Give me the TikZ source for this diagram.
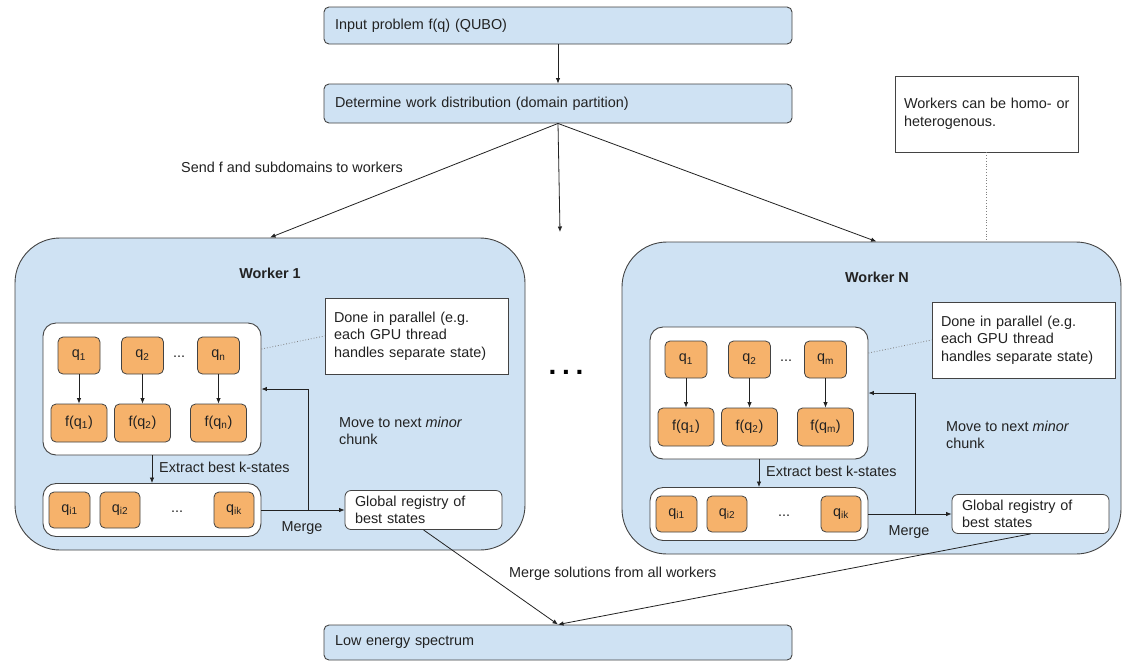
\documentclass[tikz,border=0pt]{standalone}
\usepackage{fontspec}
\setmainfont{Liberation Sans}
\usetikzlibrary{arrows.meta,calc}

\definecolor{paleblue}{HTML}{CFE2F3}
\definecolor{qorange}{HTML}{F6B26B}
\definecolor{edge}{HTML}{434343}
\definecolor{ink}{HTML}{222222}

\tikzset{
  txtbase/.style={font=\fontsize{14.4}{17.5}\selectfont, text=ink},
  txt/.style={txtbase, inner sep=0pt},
  heading/.style={font=\fontsize{14.4}{17.5}\selectfont\bfseries, text=ink, inner sep=0pt},
  stage/.style={txtbase, draw=edge, line width=0.9pt, fill=paleblue, rounded corners=5pt,
    align=left, inner xsep=11pt, inner ysep=0pt, text width=446pt},
  worker/.style={draw=edge, line width=0.9pt, fill=paleblue, rounded corners=45pt, inner sep=0pt},
  pool/.style={draw=edge, line width=0.9pt, fill=white, rounded corners=13pt, inner sep=0pt},
  cell/.style={txtbase, draw=edge, line width=0.8pt, fill=qorange, rounded corners=5pt, inner sep=0pt},
  memo/.style={txtbase, draw=edge, line width=0.8pt, fill=white, align=left,
    inner xsep=9pt, inner ysep=0pt, minimum height=76pt, text width=165pt},
  registry/.style={txtbase, draw=edge, line width=0.8pt, fill=white, rounded corners=6pt,
    align=left, inner xsep=10pt, inner ysep=0pt, minimum height=39pt, text width=137pt},
  flow/.style={draw=ink, line width=0.8pt, -{Latex[length=5.5pt,width=4.5pt]}},
  hint/.style={draw=gray, line width=0.8pt, dotted},
}

% One worker panel: #1 name prefix, #2/#3 shift, #4 title, #5 last index, #6 panel width
\newcommand\workerpanel[6]{%
  \begin{scope}[shift={(#2,#3)}]
    \node[worker, minimum width=#6pt, minimum height=312pt] (#1-box) at ({15+#6/2},394) {};
    \node[heading] (#1-title) at (270,273) {#4};
    \node[memo] (#1-memo) at (416.5,336) {Done in parallel (e.g.\\each GPU thread\\handles separate state)};
    % candidate states and their energies
    \node[pool, minimum width=218pt, minimum height=132pt] (#1-pool) at (152,389) {};
    \node[cell, minimum width=42pt, minimum height=37pt] (#1-q1) at (79,355.5) {q\textsubscript{1}};
    \node[cell, minimum width=42pt, minimum height=37pt] (#1-q2) at (142.5,355.5) {q\textsubscript{2}};
    \node[cell, minimum width=42pt, minimum height=37pt] (#1-q3) at (218.5,355.5) {q\textsubscript{#5}};
    \node[txt] (#1-qdots) at (179,357) {...};
    \node[cell, minimum width=56pt, minimum height=38pt] (#1-f1) at (79,423) {f(q\textsubscript{1})};
    \node[cell, minimum width=56pt, minimum height=38pt] (#1-f2) at (142.5,423) {f(q\textsubscript{2})};
    \node[cell, minimum width=56pt, minimum height=38pt] (#1-f3) at (218.5,423) {f(q\textsubscript{#5})};
    \draw[flow] (#1-q1.south) -- (#1-f1.north);
    \draw[flow] (#1-q2.south) -- (#1-f2.north);
    \draw[flow] (#1-q3.south) -- (#1-f3.north);
    % best k states
    \node[pool, minimum width=218pt, minimum height=53pt] (#1-best) at (152,510) {};
    \node[cell, minimum width=41pt, minimum height=36pt] (#1-k1) at (69.5,510) {q\textsubscript{i1}};
    \node[cell, minimum width=40pt, minimum height=36pt] (#1-k2) at (120,510) {q\textsubscript{i2}};
    \node[cell, minimum width=40pt, minimum height=36pt] (#1-k3) at (234,510) {q\textsubscript{ik}};
    \node[txt] (#1-kdots) at (177,512) {...};
    \node[registry] (#1-reg) at (423.5,510) {Global registry of\\best states};
    \draw[flow] (#1-pool.south) -- (#1-best.north);
    \draw[flow] (#1-best.east) -- (#1-reg.west);
    \coordinate (#1-fork) at (308,510);
    \draw[flow] (#1-fork) |- (#1-pool.east);
    \draw[hint] ([yshift=40pt]#1-pool.east) -- (#1-memo.west);
    \node[txt, anchor=west] (#1-extract) at (159,467) {Extract best k-states};
    \node[txt, anchor=west, align=left] (#1-move) at (339,431) {Move to next \textit{minor}\\chunk};
    \node[txt] (#1-merge) at (302,528) {Merge};
  \end{scope}}

\begin{document}
\begin{tikzpicture}[x=1pt, y=-1pt]
  \useasboundingbox[fill=white] (0,0) rectangle (1124,662);

  \node[stage, minimum height=37pt] (input) at (558,25.5) {Input problem f(q) (QUBO)};
  \node[stage, minimum height=39pt] (split) at (558,103.5) {Determine work distribution (domain partition)};
  \node[stage, minimum height=35pt] (spectrum) at (558,642.5) {Low energy spectrum};
  \draw[flow] (input) -- (split);

  \workerpanel{w1}{0}{0}{Worker 1}{n}{510}
  \workerpanel{wN}{607}{4}{Worker N}{m}{499}

  % distribution to the workers
  \coordinate (gap) at (560,232);
  \draw[flow] (split.south) -- (w1-box.north);
  \draw[flow] (split.south) -- (gap);
  \draw[flow] (split.south) -- ([xshift=5pt]wN-box.north);
  \node[txt, anchor=west] (send) at (181,167) {Send f and subdomains to workers};

  \node[memo] (hetero) at (986.5,114) {\mbox{Workers can be homo- or}\\heterogenous.};
  \draw[hint] (hetero.south) -- (hetero.south |- wN-box.north);

  \node[font=\fontsize{28}{28}\selectfont\bfseries, inner sep=0pt] (more) at (566,372) {.\hspace{5.7pt}.\hspace{5.7pt}.};

  % collecting the results
  \draw[flow] (w1-reg.south) -- (spectrum.north);
  \draw[flow] (wN-reg.south) -- (spectrum.north);
  \node[txt, anchor=west] (collect) at (509,574) {Merge solutions from all workers};
\end{tikzpicture}
\end{document}
